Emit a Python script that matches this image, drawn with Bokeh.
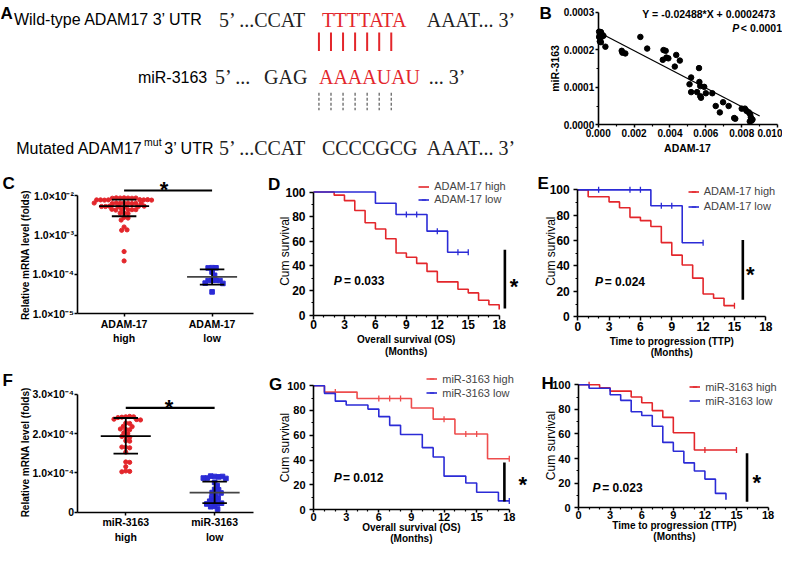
import numpy as np
from bokeh.plotting import figure
from bokeh.layouts import column, row
from bokeh.models import Range1d, Label, Legend, LegendItem, FixedTicker
from bokeh.core.properties import value
from bokeh.embed import file_html
from bokeh.resources import INLINE

# ====================== DATA ======================
# Panel A
a_wt_name = "Wild-type ADAM17 3’ UTR"
a_mir_name = "miR-3163"
a_mut_name = "Mutated ADAM17"
a_mut_sup = "mut"
a_mut_tail = "3’ UTR"
a_wt_seq = ["5’ ...CCAT", "TTTTATA", "AAAT... 3’"]
a_mir_seq = ["5’ ...", "GAG", "AAAAUAU", "... 3’"]
a_mut_seq = ["5’ ...CCAT", "CCCCGCG", "AAAT... 3’"]

# Panel B
b_adam17 = [0.00005, 0.00015, 0.00009, 0.00022, 0.00005, 0.00018, 0.00029, 0.00009, 0.00015, 0.00040,
            0.00131, 0.00135, 0.00151, 0.00235, 0.00273, 0.00364, 0.00376, 0.00360, 0.00380, 0.00391,
            0.00435, 0.00455, 0.00427, 0.00562, 0.00518, 0.00509, 0.00564, 0.00569, 0.00591, 0.00518,
            0.00551, 0.00569, 0.00573, 0.00600, 0.00636, 0.00655, 0.00678, 0.00696, 0.00727, 0.00758,
            0.00764, 0.00800, 0.00818, 0.00827, 0.00840, 0.00847, 0.00851, 0.00855, 0.00860, 0.00845]
b_mir3163 = [0.000248, 0.000247, 0.000241, 0.000240, 0.000234, 0.000234, 0.000237, 0.000222, 0.000220, 0.000208,
             0.000197, 0.000192, 0.000190, 0.000234, 0.000203, 0.000199, 0.000197, 0.000173, 0.000179, 0.000177,
             0.000186, 0.000171, 0.000155, 0.000151, 0.000126, 0.000108, 0.000114, 0.000103, 0.000101, 0.000087,
             0.000087, 0.000076, 0.000072, 0.000084, 0.000084, 0.000050, 0.000033, 0.000060, 0.000050, 0.000018,
             0.000016, 0.000043, 0.000043, 0.000037, 0.000033, 0.000028, 0.000020, 0.000011, 0.000014, 0.000009]
b_slope = -0.02488
b_intercept = 0.0002473
b_fit_x = [0.0, 0.009]
b_equation = "Y = -0.02488*X + 0.0002473"
b_pvalue = "< 0.0001"
b_xlabel = "ADAM-17"
b_ylabel = "miR-3163"
b_xticks = [0.000, 0.002, 0.004, 0.006, 0.008, 0.010]
b_yticks = [0.0, 0.0001, 0.0002, 0.0003]

# Panel C
c_groups = ["ADAM-17\nhigh", "ADAM-17\nlow"]
c_high = [0.0088, 0.0087, 0.0087, 0.0086, 0.0088, 0.0087, 0.0086,
          0.0079, 0.0078, 0.0078, 0.0077, 0.0079, 0.0078, 0.0077, 0.0078,
          0.0065, 0.0064, 0.0064, 0.0063, 0.0065, 0.0064, 0.0063, 0.0064, 0.0065,
          0.0054, 0.0053, 0.0053, 0.0052, 0.0054, 0.0053, 0.0052,
          0.0045, 0.0044, 0.0044, 0.0043, 0.0045, 0.0044,
          0.0036, 0.0036, 0.0035, 0.0028, 0.0027, 0.0024, 0.0016, 0.00135, 0.00132, 0.00038, 0.00022]
c_low = [0.000148, 0.000147, 0.000146, 0.000115, 0.000095, 0.000071, 0.000071, 0.000070, 0.000070,
         0.000060, 0.000059, 0.000036]
c_high_stats = (0.0054, 0.0030, 0.0079)      # mean, lower, upper
c_low_stats = (0.000087, 0.000055, 0.000135)
c_yticks = [1e-5, 1e-4, 1e-3, 1e-2]
c_ylabels = ["1.0×10⁻⁵", "1.0×10⁻⁴", "1.0×10⁻³", "1.0×10⁻²"]
dot_ylabel = "Relative mRNA level (folds)"

# Panel F
f_groups = ["miR-3163\nhigh", "miR-3163\nlow"]
f_high = [0.000243, 0.000244, 0.000242, 0.000243, 0.000241, 0.000236, 0.000237, 0.000235, 0.000227, 0.000226,
          0.000219, 0.000218, 0.000211, 0.000210, 0.000212, 0.000202, 0.000201, 0.000192, 0.000191, 0.000193,
          0.000182, 0.000181, 0.000165, 0.000164, 0.000166, 0.000153, 0.000128, 0.000127, 0.000116, 0.000105,
          0.000104, 0.000103]
f_low = [0.000091, 0.000090, 0.000092, 0.000091, 0.000087, 0.000086, 0.000087, 0.000076, 0.000068, 0.000058,
         0.000057, 0.000050, 0.000049, 0.000043, 0.000037, 0.000036, 0.000029, 0.000028, 0.000022, 0.000023,
         0.000021, 0.000015, 0.000014, 0.000008]
f_high_stats = (0.000194, 0.000149, 0.000240)
f_low_stats = (0.000050, 0.000023, 0.000078)
f_yticks = [0.0, 0.0001, 0.0002, 0.0003]
f_ylabels = ["0", "1.0×10⁻⁴", "2.0×10⁻⁴", "3.0×10⁻⁴"]

# Kaplan-Meier: (label, event times, survival after event, last follow-up, censor times, censor survival)
d_high = ("ADAM-17 high", [0, 2, 3, 4, 5, 6, 7, 8, 9, 10, 11, 12, 14, 15, 16, 17, 18],
          [100, 97.5, 93, 85, 75, 70, 62, 50.5, 47, 42, 35.5, 27, 21, 18, 12, 8.4, 4.5], 18, [], [])
d_low = ("ADAM-17 low", [0, 6, 8, 11, 13], [100, 90.9, 81.8, 68.2, 51.1], 15,
         [9, 10, 12, 14, 15], [81.8, 81.8, 68.2, 51.1, 51.1])
d_p = "= 0.033"
e_high = ("ADAM-17 high", [0, 1, 3, 4, 5, 6, 7, 8, 9, 10, 11, 12, 13, 14],
          [100, 94.6, 90.5, 85.9, 78.3, 75.7, 71.1, 58.4, 48.5, 40.8, 30.4, 17.9, 14.5, 8.7], 15, [15], [8.7])
e_low = ("ADAM-17 low", [0, 7, 10], [100, 87.5, 58.3], 12,
         [2, 5, 6, 8, 9, 12], [100, 100, 100, 87.5, 87.5, 58.3])
e_p = "= 0.024"
g_high = ("miR-3163 high", [0, 1, 4, 9, 11, 13, 16], [100, 94.8, 89.6, 82, 73, 61, 41], 18,
          [2, 6, 7, 8, 12, 14, 15, 18], [94.8, 89.6, 89.6, 89.6, 73, 61, 61, 41])
g_low = ("miR-3163 low", [0, 1, 2, 3, 5, 6, 7, 8, 10, 11, 12, 14, 15, 17],
         [100, 93.8, 87.5, 84.4, 81.1, 75, 68, 60.6, 50, 42.5, 27, 21.4, 14, 7], 18, [18], [7])
g_p = "= 0.012"
h_high = ("miR-3163 high", [0, 2, 3, 5, 6, 7, 8, 9, 11], [100, 97.4, 94.8, 90, 85.3, 79, 73.5, 61, 47], 15,
          [1, 12, 15], [100, 47, 47])
h_low = ("miR-3163 low", [0, 1, 3, 4, 5, 6, 7, 8, 9, 10, 11, 12, 13, 14],
         [100, 97.1, 91.8, 87.3, 78, 75, 66.3, 53.2, 46, 36.6, 30, 23.4, 11.8, 6.6], 14, [], [])
h_p = "= 0.023"
km_ylabel = "Cum survival"
os_label = ["Overall survival (OS)", "(Months)"]
ttp_label = ["Time to progression (TTP)", "(Months)"]
km_xticks = [0, 3, 6, 9, 12, 15, 18]
km_xminor = [1, 2, 4, 5, 7, 8, 10, 11, 13, 14, 16, 17]
km_yticks = [0, 20, 40, 60, 80, 100]
km_yminor = [10, 30, 50, 70, 90]

# ====================== LAYOUT HELPERS ======================
FONT = "Liberation Sans"
SERIF = "Liberation Serif"
RED = "#e3262b"
BLUE = "#2b2bd6"
SX, SY = 782 / 798, 549 / 565
ROW_Y = [0, 172, 377, 565]


def X(x):
    return x * SX


def Y(y):
    return y * SY


def bx(x):
    return int(round(x * SX))


def by(y):
    return int(round(y * SY))


def lin(pa, va, pb, vb, p):
    return va + (p - pa) * (vb - va) / (pb - pa)


def make_fig(cell, xmap, ymap, ylog=False):
    """cell in reference px; xmap/ymap = (px_a, val_a, px_b, val_b); frame fills the whole cell."""
    cx0, cy0, cx1, cy1 = cell
    xr = Range1d(lin(*xmap, cx0), lin(*xmap, cx1))
    if ylog:
        pa_, va, pb_, vb = ymap
        ym = (pa_, np.log10(va), pb_, np.log10(vb))
        yr = Range1d(10 ** lin(*ym, cy1), 10 ** lin(*ym, cy0))
    else:
        yr = Range1d(lin(*ymap, cy1), lin(*ymap, cy0))
    p = figure(width=bx(cx1) - bx(cx0), height=by(cy1) - by(cy0), min_border=0,
               x_range=xr, y_range=yr, output_backend="svg", toolbar_location=None,
               y_axis_type="log" if ylog else "linear")
    p.outline_line_color = None
    p.grid.visible = False
    return p


def style(p, tick_size=11):
    for ax in p.axis:
        ax.axis_line_width = 1.6
        ax.axis_line_color = "black"
        ax.major_tick_out = 4
        ax.major_tick_in = 0
        ax.minor_tick_out = 2
        ax.minor_tick_in = 0
        ax.major_tick_line_width = 1.5
        ax.minor_tick_line_width = 1.2
        ax.major_label_text_font = FONT
        ax.major_label_text_font_style = "bold"
        ax.major_label_text_font_size = f"{tick_size}px"
        ax.major_label_text_color = "black"
        ax.major_label_standoff = 2


def ref_label(p, cell, rx, ry, text, size, style_="bold", align="left", baseline="middle",
              color="black", font=FONT, angle=0.0):
    p.add_layout(Label(x=X(rx) - bx(cell[0]), y=by(cell[3]) - Y(ry), x_units="screen", y_units="screen",
                       text=text, text_font=font, text_font_size=f"{size}px", text_font_style=style_,
                       text_align=align, text_baseline=baseline, text_color=color, angle=angle))


def letter(p, cell, rx, ry, text):
    ref_label(p, cell, rx, ry, text, 17, baseline="alphabetic")


def star(p, cell, rx, ry):
    ref_label(p, cell, rx, ry + 6, "*", 22, align="center")


def beeswarm(ypx, d=4.0, step=0.5):
    placed, xs = [], []
    for y in ypx:
        k = 0
        while True:
            cands = [0.0] if k == 0 else [k * step, -k * step]
            found = None
            for s in cands:
                if all((s - px) ** 2 + (y - py) ** 2 >= d * d for px, py in placed):
                    found = s
                    break
            if found is not None:
                break
            k += 1
        placed.append((found, y))
        xs.append(found)
    return xs


# ====================== PANEL A ======================
pa = figure(width=bx(545), height=by(ROW_Y[1]), x_range=Range1d(0, 545), y_range=Range1d(ROW_Y[1], 0),
            min_border=0, output_backend="svg", toolbar_location=None,
            x_axis_location=None, y_axis_location=None)
pa.outline_line_color = None
pa.grid.visible = False
pa.text(x=[0], y=[13], text=["A"], text_font=value(FONT), text_font_style="bold",
        text_font_size="17px", text_baseline="alphabetic")
pa.text(x=[207, 211, 145, 218], y=[20, 79, 152, 152],
        text=[a_wt_name, a_mir_name, a_mut_name, a_mut_tail],
        text_font=value(FONT), text_font_size="16px", text_baseline="middle", text_align="right")
pa.text(x=[146.5], y=[146], text=[a_mut_sup], text_font=value(FONT), text_font_size="10.5px",
        text_baseline="middle", text_align="left")
seq_black_x = [223, 435, 219, 269, 437, 223, 328, 435]
seq_black_y = [20, 20, 79, 79, 79, 152, 152, 152]
seq_black_t = [a_wt_seq[0], a_wt_seq[2], a_mir_seq[0], a_mir_seq[1], a_mir_seq[3],
               a_mut_seq[0], a_mut_seq[1], a_mut_seq[2]]
pa.text(x=seq_black_x, y=seq_black_y, text=seq_black_t, text_font=value(SERIF),
        text_font_size="20px", text_baseline="middle", text_color="#222222")
pa.text(x=[328, 325], y=[20, 79], text=[a_wt_seq[1], a_mir_seq[2]], text_font=value(SERIF),
        text_font_size="20px", text_baseline="middle", text_color=RED)
n_seed = len(a_wt_seq[1])
bar_x = [325 + 12.3 * i for i in range(n_seed)]
pa.segment(x0=bar_x, y0=[33] * n_seed, x1=bar_x, y1=[52] * n_seed, line_color=RED, line_width=2)
pa.segment(x0=bar_x, y0=[95] * n_seed, x1=bar_x, y1=[113] * n_seed, line_color="#666666",
           line_width=1.3, line_dash="3 2")

# ====================== PANEL B ======================
B_CELL = (545, ROW_Y[0], 798, ROW_Y[1])
pb = make_fig(B_CELL, (610, 0.0, 793, 0.010), (128, 0.0, 12, 0.0003))
pb.scatter(b_adam17, b_mir3163, size=5.5, color="black")
pb.line(b_fit_x, [b_slope * x + b_intercept for x in b_fit_x], line_color="black", line_width=1.2)
style(pb, tick_size=10)
pb.xaxis.fixed_location = 0.0
pb.yaxis.fixed_location = 0.0
pb.xaxis.bounds = (b_xticks[0], b_xticks[-1])
pb.yaxis.bounds = (b_yticks[0], b_yticks[-1])
pb.xaxis.ticker = FixedTicker(ticks=b_xticks, minor_ticks=[0.001, 0.003, 0.005, 0.007, 0.009])
pb.yaxis.ticker = FixedTicker(ticks=b_yticks, minor_ticks=[0.00005, 0.00015, 0.00025])
pb.xaxis.major_label_overrides = {v: f"{v:.3f}" for v in b_xticks}
pb.yaxis.major_label_overrides = {v: f"{v:.4f}" for v in b_yticks}
for ax in pb.axis:
    ax.major_tick_out = 3
    ax.major_label_standoff = 1
ref_label(pb, B_CELL, 701, 151.5, b_xlabel, 10.5, align="center")
ref_label(pb, B_CELL, 566, 70, b_ylabel, 10.5, align="center", angle=np.pi / 2)
ref_label(pb, B_CELL, 655, 14, b_equation, 10.5)
ref_label(pb, B_CELL, 746.7, 28, "P", 10.5, style_="bold italic")
ref_label(pb, B_CELL, 755.5, 28, b_pvalue, 10.5)
letter(pb, B_CELL, 550, 13, "B")


# ====================== PANELS C / F (dot plots) ======================
def dot_panel(cell, cat_px, ymap, log, yticks, ylabels, high, low, hstats, lstats, groups,
              sig_y, star_xy, letter_xy, letter_text, ylab_xy, ybottom):
    unit = cat_px[1] - cat_px[0]
    xmap = (cat_px[0], 1.0, cat_px[1], 2.0)
    p = make_fig(cell, xmap, ymap, ylog=log)
    pa_, va, pb_, vb = ymap
    tr = np.log10 if log else (lambda v: v)
    ppv = (pb_ - pa_) / (tr(va) - tr(vb))  # px per transformed unit, upward
    for vals, center, color, marker, size in ((high, 1, RED, "circle", 4.2), (low, 2, BLUE, "square", 4.6)):
        ypx = [float(tr(v)) * ppv for v in vals]
        offs = beeswarm(ypx)
        xs = [center + o / unit for o in offs]
        p.scatter(xs, vals, marker=marker, size=size, color=color)
    for center, (m, lo, hi), mcol in ((1, hstats, "black"), (2, lstats, "#444444")):
        p.segment(x0=[center], y0=[lo], x1=[center], y1=[hi], line_color="black", line_width=1.8)
        cap = 12.5 / unit
        p.segment(x0=[center - cap, center - cap], y0=[lo, hi], x1=[center + cap, center + cap],
                  y1=[lo, hi], line_color="black", line_width=1.8)
        half = 25.5 / unit
        p.segment(x0=[center - half], y0=[m], x1=[center + half], y1=[m], line_color=mcol, line_width=1.8)
    p.segment(x0=[1], y0=[sig_y], x1=[2], y1=[sig_y], line_color="black", line_width=2.2)
    style(p, tick_size=10.5)
    x_left = lin(*xmap, 79)
    p.yaxis.fixed_location = x_left
    p.xaxis.fixed_location = ybottom
    p.xaxis.bounds = (x_left, lin(*xmap, 258))
    p.yaxis.bounds = (yticks[0], yticks[-1])
    p.yaxis.ticker = FixedTicker(ticks=yticks)
    p.yaxis.major_label_overrides = dict(zip(yticks, ylabels))
    p.xaxis.ticker = FixedTicker(ticks=[1, 2])
    p.xaxis.major_label_overrides = {1: groups[0], 2: groups[1]}
    p.xaxis.major_label_text_font_size = "10.5px"
    for ax in p.axis:
        ax.major_tick_out = 3
        ax.major_label_standoff = 1
    ref_label(p, cell, ylab_xy[0], ylab_xy[1], dot_ylabel, 10, align="center", angle=np.pi / 2)
    star(p, cell, star_xy[0], star_xy[1])
    letter(p, cell, letter_xy[0], letter_xy[1], letter_text)
    return p


C_CELL = (0, ROW_Y[1], 262, ROW_Y[2])
pc = dot_panel(C_CELL, (126, 215.7), (201, 1e-2, 322.7, 1e-5), True, c_yticks, c_ylabels,
               c_high, c_low, c_high_stats, c_low_stats, c_groups,
               10 ** (-2 + 5.3 / 40.57), (167, 188), (2, 188), "C", (26, 262), 1e-5)

F_CELL = (0, ROW_Y[2], 262, ROW_Y[3])
pf = dot_panel(F_CELL, (127.7, 218.3), (526.7, 0.0, 405.7, 3e-4), False, f_yticks, f_ylabels,
               f_high, f_low, f_high_stats, f_low_stats, f_groups,
               0.000266, (172, 412.7), (2, 391), "F", (26, 465), 0.0)


# ====================== KM PANELS ======================
def km_panel(cell, x0px, x18px, y0px, y100px, series, colors, leg, ptext, pval, bar, star_xy,
             letter_xy, letter_text, xlabel, xlab_pos, ylab_pos, tick_size=12, xstand=1):
    p = make_fig(cell, (x0px, 0, x18px, 18), (y0px, 0, y100px, 100))
    items = []
    for (label, times, surv, end, ct, cs), col in zip(series, colors):
        xs, ys = list(times), list(surv)
        if end > xs[-1]:
            xs.append(end)
            ys.append(ys[-1])
        r = p.step(xs, ys, mode="after", line_color=col, line_width=1.6)
        c = p.scatter(ct, cs, marker="dash", angle=np.pi / 2, size=6, line_color=col, line_width=1.3)
        items.append(LegendItem(label=label, renderers=[r, c]))
    bx_, by0, by1 = bar
    p.segment(x0=[bx_], y0=[by0], x1=[bx_], y1=[by1], line_color="black", line_width=2.6)
    style(p, tick_size=tick_size)
    p.xaxis.fixed_location = 0
    p.yaxis.fixed_location = 0
    p.xaxis.ticker = FixedTicker(ticks=km_xticks, minor_ticks=km_xminor)
    p.yaxis.ticker = FixedTicker(ticks=km_yticks, minor_ticks=km_yminor)
    p.xaxis.bounds = (0, 18)
    p.yaxis.bounds = (0, 100)
    p.xaxis.major_label_standoff = xstand
    p.yaxis.major_label_standoff = 4
    if xstand == 0:
        p.xaxis.major_tick_out = 3
    # legend
    glyph_left, row1, row2 = leg
    rh = 13
    pitch = (row2 - row1) * SY
    legend = Legend(items=items, location=(X(glyph_left) - bx(cell[0]), by(cell[3]) - (Y(row2) + rh / 2)),
                    glyph_width=11, glyph_height=rh, label_height=rh, label_standoff=5,
                    spacing=max(0, int(round(pitch - rh))), padding=0, margin=0,
                    border_line_alpha=0, background_fill_alpha=0,
                    label_text_font=FONT, label_text_font_size="11px")
    p.add_layout(legend)
    ref_label(p, cell, xlab_pos[0], xlab_pos[1], xlabel[0], 10, align="center")
    ref_label(p, cell, xlab_pos[0], xlab_pos[2], xlabel[1], 10, align="center")
    ref_label(p, cell, ylab_pos[0], ylab_pos[1], km_ylabel, 12, style_="normal", align="center", angle=np.pi / 2)
    ref_label(p, cell, ptext[0], ptext[2], "P", 12, style_="bold italic")
    ref_label(p, cell, ptext[1], ptext[2], pval, 12)
    star(p, cell, star_xy[0], star_xy[1])
    letter(p, cell, letter_xy[0], letter_xy[1], letter_text)
    return p


pd_ = km_panel((262, ROW_Y[1], 532, ROW_Y[2]), 319.3, 509.2, 324, 197.3, [d_high, d_low], [RED, BLUE],
               (426.7, 191.7, 205), (340, 350.5, 289), d_p, (18.55, 53.1, 5.3), (524, 288), (273, 189), "D",
               os_label, (414, 349, 361), (290, 258))
pe = km_panel((532, ROW_Y[1], 798, ROW_Y[2]), 589.3, 781, 325.7, 195, [e_high, e_low], [RED, BLUE],
              (701.7, 196.7, 212.3), (606.7, 616.5, 289.3), e_p, (15.8, 60.4, 13.3), (765, 276), (548, 188), "E",
              ttp_label, (685, 350.7, 362.3), (561.7, 258))
pg = km_panel((262, ROW_Y[2], 542, ROW_Y[3]), 319.3, 519.3, 524, 396.7, [g_high, g_low], ["#ee4d4d", BLUE],
              (435, 390, 404), (340, 349.5, 491.7), g_p, (17.55, 38, 6.5), (533, 492), (274, 395), "G",
              os_label, (419.3, 542, 553.5), (290.7, 460), tick_size=11, xstand=0)
ph = km_panel((542, ROW_Y[2], 798, ROW_Y[3]), 590, 783.3, 522.3, 395.7, [h_high, h_low], [RED, BLUE],
              (703.3, 398.3, 412.3), (604, 614, 501.7), h_p, (16.0, 44.4, 5.0), (771.7, 490), (552, 394), "H",
              ttp_label, (687.7, 540.5, 552), (561.7, 458), tick_size=11, xstand=0)

layout = column(row(pa, pb, spacing=0), row(pc, pd_, pe, spacing=0), row(pf, pg, ph, spacing=0), spacing=0)
open("out.html", "w").write(file_html(layout, INLINE))
